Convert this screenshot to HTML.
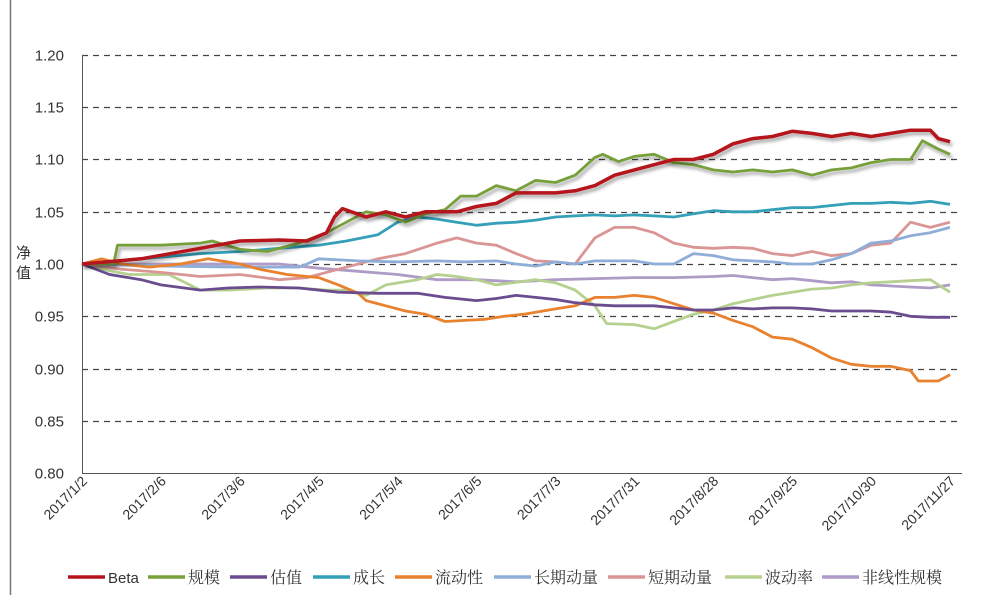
<!DOCTYPE html>
<html><head><meta charset="utf-8"><style>
body{margin:0;background:#fff;}
svg text{font-family:"Liberation Sans","Noto Sans CJK SC",sans-serif;fill:#333;}
svg text.lg{font-family:"Liberation Sans","Noto Serif CJK SC",serif;}
</style></head><body>
<svg id="chart" width="999" height="600" viewBox="0 0 999 600" xmlns="http://www.w3.org/2000/svg">
<defs><filter id="sh" x="-5%" y="-20%" width="110%" height="140%"><feDropShadow dx="2" dy="3" stdDeviation="1.5" flood-color="#000" flood-opacity="0.35"/></filter></defs>
<line x1="10.5" y1="0" x2="10.5" y2="595" stroke="#777" stroke-width="1.5"/>
<g id="grid"></g><g id="axes"></g><g id="series"></g><g id="legend"></g>
</svg>
<script>
const tickValues=[0.80,0.85,0.90,0.95,1.00,1.05,1.10,1.15,1.20];
const tickLabels=["0.80","0.85","0.90","0.95","1.00","1.05","1.10","1.15","1.20"];
const dateLabels=["2017/1/2","2017/2/6","2017/3/6","2017/4/5","2017/5/4","2017/6/5","2017/7/3","2017/7/31","2017/8/28","2017/9/25","2017/10/30","2017/11/27"];
const dateDays=[0,20,40,60,80,100,120,140,160,180,200,220];
const seriesNames=["Beta","规模","估值","成长","流动性","长期动量","短期动量","波动率","非线性规模"];
const seriesColors=["#B5121B","#77A03A","#6B4C8E","#33A0B8","#E8822E","#8EADD8","#DA9595","#B6D18F","#AE9BC6"];
const betaDays=[0,15,30,40,50,57,62,64,66,72,77,82,87,95,100,105,110,115,120,125,130,135,140,145,150,155,160,165,170,175,180,185,190,195,200,205,210,215,217,220];
const betaVals=[1.00,1.005,1.015,1.022,1.023,1.022,1.030,1.045,1.053,1.045,1.050,1.045,1.050,1.050,1.055,1.058,1.068,1.068,1.068,1.070,1.075,1.085,1.090,1.095,1.100,1.100,1.105,1.115,1.120,1.122,1.127,1.125,1.122,1.125,1.122,1.125,1.128,1.128,1.120,1.117];
const sizeDays=[0,8,9,20,30,33,40,47,55,62,67,72,77,82,87,92,96,100,105,110,115,120,125,130,132,136,140,145,150,155,160,165,170,175,180,185,190,195,200,205,210,213,217,220];
const sizeVals=[1.00,1.00,1.018,1.018,1.020,1.022,1.014,1.012,1.020,1.030,1.040,1.050,1.047,1.040,1.048,1.052,1.065,1.065,1.075,1.070,1.080,1.078,1.085,1.102,1.105,1.098,1.103,1.105,1.097,1.095,1.090,1.088,1.090,1.088,1.090,1.085,1.090,1.092,1.097,1.100,1.100,1.118,1.110,1.105];
const valueDays=[0,7,15,20,30,37,45,55,65,75,85,92,100,105,110,115,120,125,130,135,140,145,150,155,160,165,170,175,180,185,190,195,200,205,210,215,220];
const valueVals=[1.00,0.990,0.985,0.980,0.975,0.977,0.978,0.977,0.973,0.972,0.972,0.968,0.965,0.967,0.970,0.968,0.966,0.963,0.961,0.960,0.960,0.960,0.958,0.956,0.956,0.958,0.957,0.958,0.958,0.957,0.955,0.955,0.955,0.954,0.950,0.949,0.949];
const growthDays=[0,15,30,40,50,60,67,75,80,85,90,95,100,105,110,115,120,125,130,135,140,145,150,155,160,165,170,175,180,185,190,195,200,205,210,215,220];
const growthVals=[1.00,1.005,1.010,1.012,1.015,1.018,1.022,1.028,1.040,1.045,1.043,1.040,1.037,1.039,1.040,1.042,1.045,1.046,1.047,1.046,1.047,1.046,1.045,1.048,1.051,1.050,1.050,1.052,1.054,1.054,1.056,1.058,1.058,1.059,1.058,1.060,1.057];
const liqDays=[0,5,10,17,25,32,40,45,52,60,65,70,72,77,82,87,92,97,102,107,112,120,125,130,135,140,145,150,155,160,165,170,175,180,185,190,195,200,205,210,212,217,220];
const liqVals=[1.00,1.005,1.000,0.997,1.000,1.005,1.000,0.995,0.990,0.987,0.980,0.972,0.965,0.960,0.955,0.952,0.945,0.946,0.947,0.950,0.952,0.957,0.960,0.968,0.968,0.970,0.968,0.962,0.956,0.953,0.946,0.940,0.930,0.928,0.920,0.910,0.904,0.902,0.902,0.898,0.888,0.888,0.894];
const longMomDays=[0,20,40,55,57,60,70,80,90,97,105,110,115,120,125,130,135,140,145,150,155,160,165,170,175,180,185,190,195,200,205,210,215,220];
const longMomVals=[1.00,0.998,0.997,0.997,1.000,1.005,1.003,1.002,1.003,1.002,1.003,1.000,0.998,1.002,1.000,1.003,1.003,1.003,1.000,1.000,1.010,1.008,1.004,1.003,1.002,1.000,1.000,1.004,1.010,1.020,1.022,1.027,1.030,1.035];
const shortMomDays=[0,10,20,30,40,50,57,65,75,82,90,95,100,105,110,115,120,125,130,135,140,145,150,155,160,165,170,175,180,185,190,195,200,205,210,215,220];
const shortMomVals=[1.00,0.995,0.992,0.988,0.990,0.985,0.987,0.995,1.005,1.010,1.020,1.025,1.020,1.018,1.010,1.003,1.002,1.000,1.025,1.035,1.035,1.030,1.020,1.016,1.015,1.016,1.015,1.010,1.008,1.012,1.008,1.010,1.018,1.020,1.040,1.035,1.040];
const volDays=[0,5,12,22,30,37,47,55,62,67,72,77,85,90,95,100,105,115,120,125,130,133,140,145,150,155,160,165,170,175,180,185,190,195,200,205,210,215,220];
const volVals=[1.00,0.995,0.990,0.990,0.975,0.975,0.977,0.977,0.975,0.975,0.970,0.980,0.985,0.990,0.988,0.985,0.980,0.985,0.982,0.975,0.960,0.943,0.942,0.938,0.945,0.952,0.956,0.962,0.966,0.970,0.973,0.976,0.977,0.980,0.982,0.983,0.984,0.985,0.973];
const nlsDays=[0,25,50,60,70,80,90,100,110,120,130,140,150,160,165,170,175,180,185,190,195,200,210,215,220];
const nlsVals=[1.00,1.000,1.000,0.996,0.993,0.990,0.985,0.985,0.983,0.985,0.986,0.987,0.987,0.988,0.989,0.987,0.985,0.986,0.984,0.982,0.983,0.980,0.978,0.977,0.980];

const X0=82,X1=962,Y0=473,Y1=55;
const xS=d=>X0+(d/220)*(950-X0);
const yS=v=>Y0-(v-0.80)/(0.40)*(Y0-Y1);
const NS="http://www.w3.org/2000/svg";
function mk(tag,attrs,parent){const e=document.createElementNS(NS,tag);for(const k in attrs)e.setAttribute(k,attrs[k]);parent.appendChild(e);return e;}
const grid=document.getElementById('grid'),axes=document.getElementById('axes'),ser=document.getElementById('series'),leg=document.getElementById('legend');
tickValues.forEach((v,i)=>{
  const y=Math.round(yS(v))+0.5;
  if(i>0){const l=mk('line',{x1:X0,y1:y,x2:X1,y2:y,stroke:'#444','stroke-width':1.3,'stroke-dasharray':'6,5'},grid);
  
  }
  const t=mk('text',{x:64,y:y+5,'text-anchor':'end','font-size':15},axes);t.textContent=tickLabels[i];
  
  
});
const ax=mk('path',{d:`M${X0+0.5},${Y1} V${Y0+0.5} H${X1}`,stroke:'#555',fill:'none','stroke-width':1},axes);


const yt=mk('text',{x:16,y:258,'font-size':15},axes);yt.textContent='净';


const yt2=mk('text',{x:16,y:278,'font-size':15},axes);yt2.textContent='值';


dateLabels.forEach((s,i)=>{
  const x=xS(dateDays[i])+6,y=482;
  const t=mk('text',{x:x,y:y,'text-anchor':'end','font-size':14,transform:`rotate(-45 ${x} ${y})`},axes);t.textContent=s;
  
  
});
const allDays=[betaDays,sizeDays,valueDays,growthDays,liqDays,longMomDays,shortMomDays,volDays,nlsDays];
const allVals=[betaVals,sizeVals,valueVals,growthVals,liqVals,longMomVals,shortMomVals,volVals,nlsVals];
const order=[8,7,6,5,4,2,3,1,0];
order.forEach(k=>{
  const d=allDays[k].map((dd,j)=>(j?'L':'M')+xS(dd).toFixed(1)+','+yS(allVals[k][j]).toFixed(1)).join(' ');
  const p=mk('path',{d:d,fill:'none',stroke:seriesColors[k],'stroke-width':k===0?3.5:2.8,'stroke-linejoin':'round'},ser);
  if(k===0||k===1)p.setAttribute('filter','url(#sh)');
  
  
});
const legX=[68,148,230,313,395,494,608,725,822];
seriesNames.forEach((n,i)=>{
  const g=mk('g',{},leg);
  
  
  mk('line',{x1:legX[i],y1:577,x2:legX[i]+37,y2:577,stroke:seriesColors[i],'stroke-width':3.5},g);
  const t=mk('text',{x:legX[i]+40,y:583,'font-size':i===0?15:16,'class':'lg'},g);t.textContent=n;
});
</script>
</body></html>
